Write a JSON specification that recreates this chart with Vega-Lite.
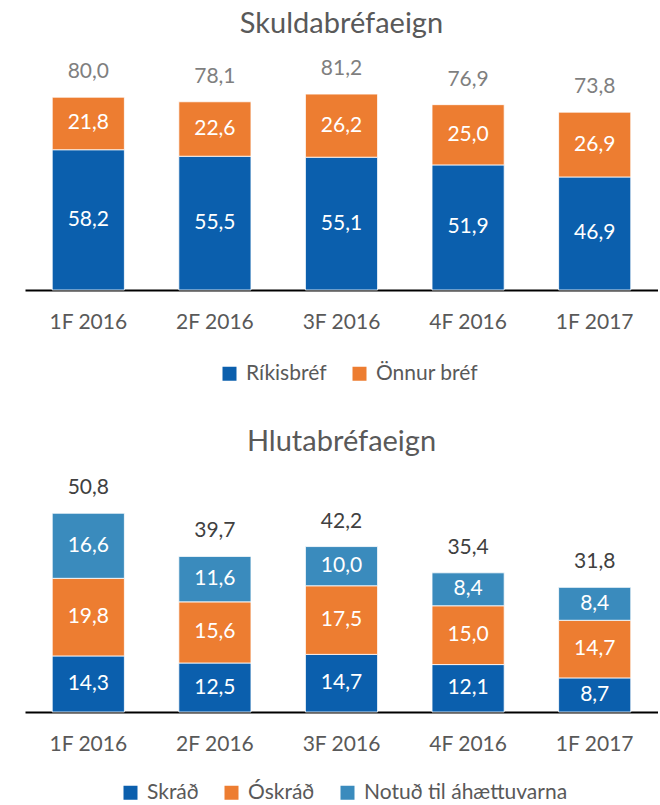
{
  "$schema": "https://vega.github.io/schema/vega-lite/v6.json",
  "padding": {"left": 25, "top": 10, "right": 0, "bottom": 0},
  "config": {
    "font": "Lato",
    "view": {"stroke": null},
    "locale": {"number": {"decimal": ",", "thousands": ".", "grouping": [3], "currency": ["", " kr"]}},
    "title": {"fontSize": 29, "fontWeight": "normal", "color": "#595959", "anchor": "middle", "offset": 10},
    "axisX": {"title": null, "labelAngle": 0, "domainColor": "#000000", "domainWidth": 2, "ticks": false, "grid": false, "labelFontSize": 21, "labelColor": "#595959", "labelPadding": 21},
    "legend": {"title": null, "orient": "none", "direction": "horizontal", "symbolType": "square", "symbolSize": 196, "symbolStrokeWidth": 0, "labelFontSize": 21, "labelColor": "#595959", "columnPadding": 22, "labelOffset": 6, "labelLimit": 400},
    "concat": {"spacing": 44}
  },
  "datasets": {
    "skuld": [
      {"q": "1F 2016", "series": "Ríkisbréf", "value": 58.2},
      {"q": "1F 2016", "series": "Önnur bréf", "value": 21.8},
      {"q": "2F 2016", "series": "Ríkisbréf", "value": 55.5},
      {"q": "2F 2016", "series": "Önnur bréf", "value": 22.6},
      {"q": "3F 2016", "series": "Ríkisbréf", "value": 55.1},
      {"q": "3F 2016", "series": "Önnur bréf", "value": 26.2},
      {"q": "4F 2016", "series": "Ríkisbréf", "value": 51.9},
      {"q": "4F 2016", "series": "Önnur bréf", "value": 25.0},
      {"q": "1F 2017", "series": "Ríkisbréf", "value": 46.9},
      {"q": "1F 2017", "series": "Önnur bréf", "value": 26.9}
    ],
    "skuldTotal": [
      {"q": "1F 2016", "total": 80.0},
      {"q": "2F 2016", "total": 78.1},
      {"q": "3F 2016", "total": 81.2},
      {"q": "4F 2016", "total": 76.9},
      {"q": "1F 2017", "total": 73.8}
    ],
    "hluta": [
      {"q": "1F 2016", "series": "Skráð", "value": 14.3},
      {"q": "1F 2016", "series": "Óskráð", "value": 19.8},
      {"q": "1F 2016", "series": "Notuð til áhættuvarna", "value": 16.6},
      {"q": "2F 2016", "series": "Skráð", "value": 12.5},
      {"q": "2F 2016", "series": "Óskráð", "value": 15.6},
      {"q": "2F 2016", "series": "Notuð til áhættuvarna", "value": 11.6},
      {"q": "3F 2016", "series": "Skráð", "value": 14.7},
      {"q": "3F 2016", "series": "Óskráð", "value": 17.5},
      {"q": "3F 2016", "series": "Notuð til áhættuvarna", "value": 10.0},
      {"q": "4F 2016", "series": "Skráð", "value": 12.1},
      {"q": "4F 2016", "series": "Óskráð", "value": 15.0},
      {"q": "4F 2016", "series": "Notuð til áhættuvarna", "value": 8.4},
      {"q": "1F 2017", "series": "Skráð", "value": 8.7},
      {"q": "1F 2017", "series": "Óskráð", "value": 14.7},
      {"q": "1F 2017", "series": "Notuð til áhættuvarna", "value": 8.4}
    ],
    "hlutaOrder": [
      {"series": "Skráð", "rank": 1},
      {"series": "Óskráð", "rank": 2},
      {"series": "Notuð til áhættuvarna", "rank": 3}
    ],
    "hlutaTotal": [
      {"q": "1F 2016", "total": 50.8},
      {"q": "2F 2016", "total": 39.7},
      {"q": "3F 2016", "total": 42.2},
      {"q": "4F 2016", "total": 35.4},
      {"q": "1F 2017", "total": 31.8}
    ]
  },
  "vconcat": [
    {
      "title": {"text": "Skuldabréfaeign"},
      "width": 633,
      "height": 241,
      "encoding": {
        "x": {"field": "q", "type": "nominal", "sort": null, "scale": {"paddingInner": 0.43, "paddingOuter": 0.215}}
      },
      "layer": [
        {
          "data": {"name": "skuld"},
          "mark": {"type": "bar", "stroke": "#ffffff", "strokeWidth": 0.8},
          "encoding": {
            "y": {"field": "value", "type": "quantitative", "stack": "zero", "scale": {"domain": [0, 100], "nice": false}, "axis": null},
            "color": {"field": "series", "type": "nominal", "sort": ["Ríkisbréf", "Önnur bréf"], "scale": {"domain": ["Ríkisbréf", "Önnur bréf"], "range": ["#0b5fad", "#ed7d31"]}, "legend": {"legendX": 194, "legendY": 314}},
            "order": {"field": "series", "sort": "ascending"}
          }
        },
        {
          "data": {"name": "skuld"},
          "mark": {"type": "text", "fontSize": 21, "baseline": "middle"},
          "encoding": {
            "y": {"field": "value", "type": "quantitative", "stack": "zero", "bandPosition": 0.5},
            "color": {"field": "series", "type": "nominal", "sort": ["Ríkisbréf", "Önnur bréf"], "legend": null, "condition": {"test": "true", "value": "#ffffff"}},
            "order": {"field": "series", "sort": "ascending"},
            "text": {"field": "value", "type": "quantitative", "format": ".1f"}
          }
        },
        {
          "data": {"name": "skuldTotal"},
          "mark": {"type": "text", "fontSize": 21, "baseline": "middle", "dy": -25, "color": "#7f7f7f"},
          "encoding": {
            "y": {"field": "total", "type": "quantitative"},
            "text": {"field": "total", "type": "quantitative", "format": ".1f"}
          }
        }
      ]
    },
    {
      "title": {"text": "Hlutabréfaeign"},
      "width": 633,
      "height": 245,
      "encoding": {
        "x": {"field": "q", "type": "nominal", "sort": null, "scale": {"paddingInner": 0.43, "paddingOuter": 0.215}}
      },
      "layer": [
        {
          "data": {"name": "hluta"},
          "transform": [{"lookup": "series", "from": {"data": {"name": "hlutaOrder"}, "key": "series", "fields": ["rank"]}}],
          "mark": {"type": "bar", "stroke": "#ffffff", "strokeWidth": 0.8},
          "encoding": {
            "y": {"field": "value", "type": "quantitative", "stack": "zero", "scale": {"domain": [0, 62.5], "nice": false}, "axis": null},
            "color": {"field": "series", "type": "nominal", "sort": ["Skráð", "Óskráð", "Notuð til áhættuvarna"], "scale": {"domain": ["Skráð", "Óskráð", "Notuð til áhættuvarna"], "range": ["#0b5fad", "#ed7d31", "#3a8bbd"]}, "legend": {"legendX": 95, "legendY": 315}},
            "order": {"field": "rank", "type": "quantitative", "sort": "ascending"}
          }
        },
        {
          "data": {"name": "hluta"},
          "transform": [{"lookup": "series", "from": {"data": {"name": "hlutaOrder"}, "key": "series", "fields": ["rank"]}}],
          "mark": {"type": "text", "fontSize": 21, "baseline": "middle"},
          "encoding": {
            "y": {"field": "value", "type": "quantitative", "stack": "zero", "bandPosition": 0.5},
            "color": {"field": "series", "type": "nominal", "sort": ["Skráð", "Óskráð", "Notuð til áhættuvarna"], "legend": null, "condition": {"test": "true", "value": "#ffffff"}},
            "order": {"field": "rank", "type": "quantitative", "sort": "ascending"},
            "text": {"field": "value", "type": "quantitative", "format": ".1f"}
          }
        },
        {
          "data": {"name": "hlutaTotal"},
          "mark": {"type": "text", "fontSize": 21, "baseline": "middle", "dy": -25, "color": "#404040"},
          "encoding": {
            "y": {"field": "total", "type": "quantitative"},
            "text": {"field": "total", "type": "quantitative", "format": ".1f"}
          }
        }
      ]
    }
  ],
  "resolve": {"scale": {"color": "independent"}, "legend": {"color": "independent"}}
}
